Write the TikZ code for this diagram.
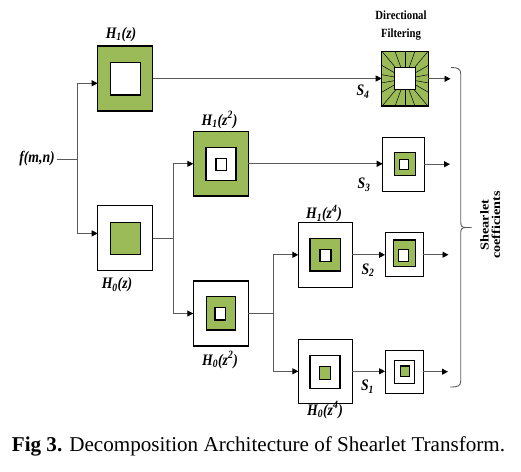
\documentclass[tikz,border=0pt]{standalone}
\usepackage{fontspec}
\usepackage{graphicx}
\setmainfont{Liberation Serif}
\usetikzlibrary{arrows.meta}
\definecolor{lg}{HTML}{9BBB59}
\definecolor{ln}{HTML}{5A5A5A}
\newcommand{\sqz}[1]{\scalebox{0.86}[1]{#1}}
\begin{document}
\begin{tikzpicture}[x=1pt,y=-1pt,
  sq/.style={draw=black,line width=1.1pt,inner sep=0pt,outer sep=0pt},
  conn/.style={draw=ln,line width=0.9pt},
  arr/.style={conn,-{Triangle[length=6pt,width=6pt,color=black]}},
  lab/.style={font=\fontsize{16}{17}\selectfont\bfseries\itshape,inner sep=0pt}
]
\useasboundingbox (0,0) rectangle (521,471);

% ---------- boxes ----------
\node[sq,fill=lg,minimum width=55pt,minimum height=65pt] (A) at (125.2,78.5) {};
\node[sq,fill=white,minimum width=30pt,minimum height=32.5pt] (Ai) at (125.5,78.7) {};

\node[sq,fill=white,minimum width=55pt,minimum height=65pt] (B) at (125.2,238.4) {};
\node[sq,fill=lg,minimum width=29.5pt,minimum height=32pt] (Bi) at (125.4,238.3) {};

\node[sq,fill=lg,minimum width=55pt,minimum height=64.3pt] (C) at (220.8,163.8) {};
\node[sq,fill=white,minimum width=30pt,minimum height=33pt] (Ci) at (221,164.2) {};
\node[sq,fill=white,minimum width=10.7pt,minimum height=12pt] (Cii) at (221.3,164.7) {};

\node[sq,fill=white,minimum width=55pt,minimum height=65pt] (D) at (220.8,313.5) {};
\node[sq,fill=lg,minimum width=29pt,minimum height=33.3pt] (Di) at (221.2,313.3) {};
\node[sq,fill=white,minimum width=10.7pt,minimum height=12.3pt] (Dii) at (220.3,313.8) {};

\node[sq,fill=white,minimum width=54pt,minimum height=65pt] (E) at (325.3,254.8) {};
\node[sq,fill=lg,minimum width=30.7pt,minimum height=32.7pt] (Ei) at (325.3,254.6) {};
\node[sq,fill=white,minimum width=11pt,minimum height=12.4pt] (Eii) at (325.5,255.5) {};

\node[sq,fill=white,minimum width=54pt,minimum height=64pt] (F) at (325.3,371.3) {};
\node[sq,fill=white,minimum width=30pt,minimum height=33.3pt] (Fi) at (325,371.7) {};
\node[sq,fill=lg,minimum width=10.7pt,minimum height=13.3pt] (Fii) at (324.7,372.7) {};

% directional filter
\node[sq,fill=lg,minimum width=46.6pt,minimum height=54.3pt] (G) at (405,78.8) {};
\begin{scope}
  \clip (G.south west) rectangle (G.north east);
  \foreach \a in {10,30,...,350}
    \draw[line width=0.5pt] (G.center) -- ++(\a:45pt);
\end{scope}
\draw[line width=1.1pt] (G.south west) rectangle (G.north east);
\node[sq,fill=white,minimum width=20.7pt,minimum height=21.6pt] (Gi) at (404.7,78.5) {};

\node[sq,fill=white,minimum width=41.6pt,minimum height=53.7pt] (H) at (403.5,164.2) {};
\node[sq,fill=lg,minimum width=20.7pt,minimum height=23.4pt] (Hi) at (404.7,164) {};
\node[sq,fill=white,minimum width=9pt,minimum height=10.3pt] (Hii) at (403.8,164.2) {};

\node[sq,fill=white,minimum width=38.3pt,minimum height=44pt] (I) at (404.2,254.7) {};
\node[sq,fill=lg,minimum width=21.7pt,minimum height=26.7pt] (Ii) at (404.2,253.3) {};
\node[sq,fill=white,minimum width=10pt,minimum height=12.4pt] (Iii) at (403.3,255.5) {};

\node[sq,fill=white,minimum width=38.3pt,minimum height=43.3pt] (J) at (404.2,371.7) {};
\node[sq,fill=white,minimum width=20pt,minimum height=23.3pt] (Ji) at (404.3,371.7) {};
\node[sq,fill=lg,minimum width=9.3pt,minimum height=10.7pt] (Jii) at (404.7,371.3) {};

% ---------- labels ----------
\node[lab,anchor=east] (f) at (55,159) {\sqz{f(m,n)}};
\node[lab] (lA) at (121,34.5) {\sqz{H\textsubscript{1}(z)}};
\node[lab] (lB) at (117,285) {\sqz{H\textsubscript{0}(z)}};
\node[lab] (lC) at (219.5,120) {\sqz{H\textsubscript{1}(z\textsuperscript{2})}};
\node[lab] (lD) at (220,360) {\sqz{H\textsubscript{0}(z\textsuperscript{2})}};
\node[lab] (lE) at (324,213.3) {\sqz{H\textsubscript{1}(z\textsuperscript{4})}};
\node[lab] (lF) at (325,410) {\sqz{H\textsubscript{0}(z\textsuperscript{4})}};
\node[lab] (s4) at (363,91.5) {\sqz{S\textsubscript{4}}};
\node[lab] (s3) at (364,185) {\sqz{S\textsubscript{3}}};
\node[lab] (s2) at (368,270) {\sqz{S\textsubscript{2}}};
\node[lab] (s1) at (367.5,386.5) {\sqz{S\textsubscript{1}}};

\node[font=\fontsize{12.5}{17.6}\selectfont\bfseries,align=center,inner sep=0pt] (df) at (401,25.5)
  {\sqz{Directional}\\\sqz{Filtering}};

\node[rotate=90,inner sep=0pt] (sc) at (491.7,225)
  {\scalebox{1}[0.85]{\fontsize{14.2}{12}\selectfont\bfseries
   \begin{tabular}{@{}c@{}}Shearlet\\coefficients\end{tabular}}};

\node[font=\fontsize{21.1}{24}\selectfont,inner sep=0pt] (cap) at (258.5,446)
  {\textbf{Fig 3.} Decomposition Architecture of Shearlet Transform.};

% ---------- connectors ----------
\coordinate (fj) at (77.3,159);
\draw[conn,shorten <=1.5pt] (f.east) -- (fj);
\draw[arr] (fj) |- ([yshift=-4.8pt]A.west);
\draw[arr] (fj) |- ([yshift=5pt]B.west);
\draw[arr] (A.east) -- (A.east -| G.west);

\coordinate (bj) at (173.3,238.4);
\draw[conn] (B.east) -- (bj);
\draw[arr] (bj) |- (C.west);
\draw[arr] (bj) |- (D.west);
\draw[arr] (C.east) -- (C.east -| H.west);

\coordinate (dj) at (273.3,313.5);
\draw[conn] (D.east) -- (dj);
\draw[arr] (dj) |- (E.west);
\draw[arr] (dj) |- (F.west);
\draw[arr] (E.east) -- (E.east -| I.west);
\draw[arr] (F.east) -- (F.east -| J.west);

\coordinate (og) at (450.5,78.8);
\coordinate (oh) at (450,164.2);
\coordinate (oi) at (448.5,254.7);
\coordinate (oj) at (448,371.7);
\draw[arr] (G.east) -- (og);
\draw[arr] (H.east) -- (oh);
\draw[arr] (I.east) -- (oi);
\draw[arr] (J.east) -- (oj);

% ---------- brace ----------
\coordinate (bt) at (451,67.5);
\coordinate (bm) at (466,227.5);
\coordinate (bb) at (450,387);
\coordinate (btip) at (471.5,227.5);
\draw[conn] (bt) .. controls (458,67.5) and (460.7,69) .. (460.7,74) -- (460.7,222)
  .. controls (460.7,226) and (462,227.5) .. (bm) -- (btip);
\draw[conn] (bm) .. controls (462,227.5) and (460.7,229) .. (460.7,233) -- (460.7,381)
  .. controls (460.7,386) and (458,387) .. (bb);
\end{tikzpicture}
\end{document}
